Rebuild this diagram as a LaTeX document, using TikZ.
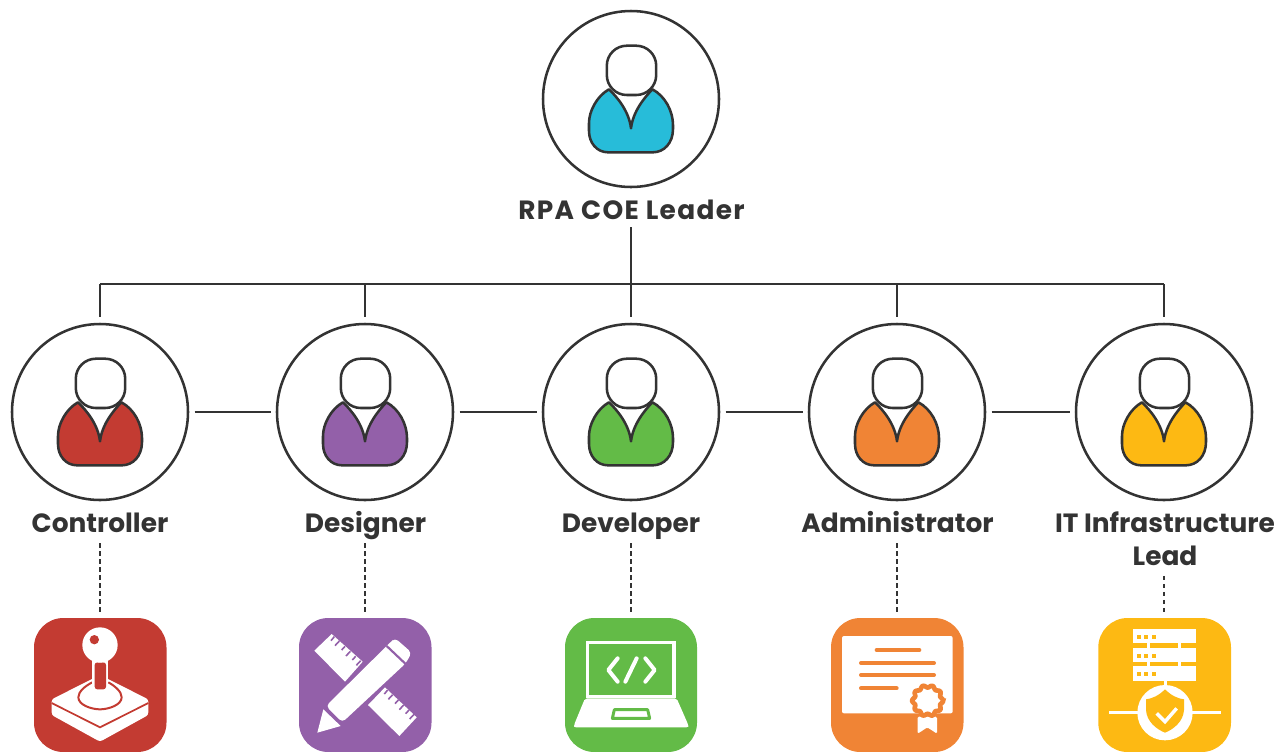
\documentclass[tikz,border=0pt]{standalone}
\usepackage{fontspec}
\setmainfont{Poppins}[BoldFont={Poppins Bold}]
\usetikzlibrary{calc}
\definecolor{ink}{HTML}{333333}
\definecolor{cred}{HTML}{C33B32}
\definecolor{cpurple}{HTML}{9360A9}
\definecolor{cgreen}{HTML}{63BB47}
\definecolor{corange}{HTML}{F08435}
\definecolor{cyellow}{HTML}{FDB913}
\definecolor{ccyan}{HTML}{27BCD9}
\tikzset{
  every picture/.append style={x=0.75pt,y=-0.75pt},
  ring/.style={circle,draw=ink,line width=1.9pt,minimum size=132pt,inner sep=0pt},
  role/.style={font=\bfseries\fontsize{19.8}{24.75}\selectfont,text=ink,align=center,inner sep=0pt},
  oneline/.style={role,anchor=base,text height=15pt,text depth=4.5pt},
  link/.style={draw=ink,line width=1.3pt},
  dots/.style={draw=ink,line width=1.4pt,dash pattern=on 3.3pt off 2.7pt},
  tile/.style={rounded corners=22pt},
  zoomed/.style={x=0.25pt,y=-0.25pt},
  person/.pic={
    \begin{scope}[line width=1.9pt,draw=ink,line join=round,x=0.75pt,y=-0.75pt]
    \path[draw=ink,fill=#1] (-22,-9.7) .. controls (-14,-2) and (-2,12) .. (0,29.3)
      .. controls (2,12) and (14,-2) .. (21.4,-9.7)
      .. controls (34,-3) and (42,12) .. (42,26) -- (42,30)
      .. controls (42,44) and (33,53.3) .. (22,53.3) -- (-23,53.3)
      .. controls (-34,53.3) and (-42,44) .. (-42,32) -- (-42,24)
      .. controls (-42,12) and (-34,-3) .. (-22,-9.7) -- cycle;
    \path[draw=ink,fill=white,rounded corners=15pt] (-24.2,-53.3) rectangle (25.2,-4);
    \end{scope}
  },
}
\begin{document}
\begin{tikzpicture}
\useasboundingbox (0,0) rectangle (1285,751);
% circles
\node[ring] (lead) at (631,99) {};
\node[ring] (c1) at (100,412) {};
\node[ring] (c2) at (365,412) {};
\node[ring] (c3) at (631,412) {};
\node[ring] (c4) at (897,412) {};
\node[ring] (c5) at (1164,412) {};
\pic at (lead.center) {person=ccyan};
\pic at (c1.center) {person=cred};
\pic at (c2.center) {person=cpurple};
\pic at (c3.center) {person=cgreen};
\pic at (c4.center) {person=corange};
\pic at (c5.center) {person=cyellow};
% labels
\node[oneline] (tlead) at (631.5,219) {\addfontfeature{LetterSpace=5}RPA COE Leader};
\node[oneline] (t1) at (100,532) {Controller};
\node[oneline] (t2) at (365.5,532) {Designer};
\node[oneline] (t3) at (631,532) {Developer};
\node[oneline] (t4) at (897.5,532) {Administrator};
\node[role,anchor=north] (t5) at (1165,511.5) {IT Infrastructure\\Lead};
% tiles
\fill[cred,tile] (34,618) rectangle (166.5,752);
\fill[cpurple,tile] (299,618) rectangle (431.5,752);
\fill[cgreen,tile] (565,618) rectangle (697,752);
\fill[corange,tile] (831,618) rectangle (963.5,752);
\fill[cyellow,tile] (1098.3,618) rectangle (1231,752);
\node[inner sep=0pt,minimum size=0pt] (i1) at (100,618) {};
\node[inner sep=0pt,minimum size=0pt] (i2) at (365,618) {};
\node[inner sep=0pt,minimum size=0pt] (i3) at (631,618) {};
\node[inner sep=0pt,minimum size=0pt] (i4) at (897,618) {};
\node[inner sep=0pt,minimum size=0pt] (i5) at (1164,618) {};
% connectors
\coordinate (b1) at (100,284);
\coordinate (b2) at (365,284);
\coordinate (b4) at (897,284);
\coordinate (b5) at (1164,284);
\draw[link] (b1) -- (b5);
\draw[link,shorten >=4.4pt] (b1) -- (c1.north);
\draw[link,shorten >=4.4pt] (b2) -- (c2.north);
\draw[link,shorten >=4.4pt] (b4) -- (c4.north);
\draw[link,shorten >=4.4pt] (b5) -- (c5.north);
\draw[link,shorten <=1.5pt,shorten >=4.4pt] (tlead.south -| c3.north) -- (c3.north);
\foreach \a/\b in {c1/c2,c2/c3,c3/c4,c4/c5}
  \draw[link,shorten <=4pt,shorten >=3.5pt] (\a) -- (\b);
\foreach \a/\b in {t1/i1,t2/i2,t3/i3,t4/i4}
  \draw[dots,shorten <=3.75pt,shorten >=4.5pt] (\a.south -| \b) -- (\b);
\draw[dots,shorten <=7.5pt,shorten >=4.5pt] (t5.south -| i5) -- (i5);
% joystick
\begin{scope}[shift={(20,610)},zoomed]
\fill[white,rounded corners=2pt] (95,268) -- (240,195) -- (385,268) -- (385,315) -- (240,395) -- (95,315) -- cycle;
\draw[cred,line width=1.3pt] (95,279) -- (240,352) -- (385,279);
\draw[cred,line width=1.5pt] (217,217) .. controls (195,228) and (175,245) .. (175,262) .. controls (175,285) and (215,298) .. (240,298) .. controls (265,298) and (305,285) .. (305,262) .. controls (305,245) and (285,228) .. (265,217);
\fill[white] (217,150) rectangle (265,225);
\fill[cred,rounded corners=2pt] (224,157) rectangle (258,238);
\fill[white] (240,105) circle[radius=53];
\fill[cred] (223,89) circle[radius=14];
\end{scope}
% pencil and rulers
\begin{scope}[shift={(290,610)},zoomed]
\fill[white] (125,72) -- (218,155) -- (165,215) -- (73,122) -- cycle;
\fill[white] (285,232) -- (380,322) -- (328,378) -- (234,285) -- cycle;
\foreach \s/\e in {{133,80}/{123,92},{148,93}/{135,107},{165,109}/{155,120},{181,124}/{168,138},{197,139}/{187,150},{212,152}/{199,166},
                   {293,240}/{283,252},{308,254}/{295,268},{325,270}/{315,281},{341,285}/{328,299},{357,300}/{347,311},{372,313}/{359,327}}
  \draw[cpurple,line width=1.2pt] (\s) -- (\e);
\fill[white,rounded corners=3pt] (108,288) -- (300,98) -- (315,84) -- (365,128) -- (347,160) -- (157,337) -- cycle;
\draw[cpurple,line width=1.6pt] (290,108) -- (347,162);
\draw[cpurple,line width=1.6pt] (102,293) -- (155,343);
\fill[white] (100,298) -- (152,348) -- (82,368) -- cycle;
\end{scope}
% laptop
\begin{scope}[shift={(555,610)},zoomed]
\draw[white,line width=2.6pt] (98,98) rectangle (357,259);
\fill[white,rounded corners=1.5pt] (90,265) -- (365,265) -- (400,345) -- (400,352) -- (57,352) -- (57,345) -- cycle;
\draw[cgreen,line width=2.2pt,line join=round] (178,299) -- (278,299) -- (284,325) -- (172,325) -- cycle;
\begin{scope}[white,line width=3pt,line cap=round,line join=round]
\draw (188,145) -- (160,180) -- (188,215);
\draw (245,145) -- (211,215);
\draw (271,145) -- (299,180) -- (271,215);
\end{scope}
\end{scope}
% certificate
\begin{scope}[shift={(822,610)},zoomed]
\fill[white,rounded corners=1.5pt] (60,78) rectangle (392,310);
\begin{scope}[corange,line width=3pt,line cap=round]
\draw (164,120) -- (292,120);
\draw (117,159) -- (336,159);
\draw (117,195) -- (336,195);
\draw (117,235) -- (224,235);
\end{scope}
\fill[white,rounded corners=1pt] (287,320) -- (345,320) -- (345,371) -- (316,352) -- (287,371) -- cycle;
\draw[corange,line width=3.5pt,fill=white,smooth,samples=120,domain=0:360] plot ({317+(43+3.5*cos(10*\x))*cos(\x)},{272+(43+3.5*cos(10*\x))*sin(\x)}) -- cycle;
\end{scope}
% server
\begin{scope}[shift={(1090,610)},zoomed]
\foreach \y/\h in {57/43,113/42,168/44}{
  \fill[white] (130,\y) rectangle (318,\y+\h);
  \foreach \xx in {140,162,185} \fill[cyellow] (\xx,\y+18) rectangle (\xx+12,\y+30);
}
\fill[white] (172,100) rectangle (181,113);
\fill[white] (264,100) rectangle (274,113);
\fill[white] (172,155) rectangle (181,168);
\fill[white] (264,155) rectangle (274,168);
\fill[white] (221,212) rectangle (231,240);
\draw[white,line width=2.6pt] (57,308) -- (392,308);
\fill[white] (225,308) circle[radius=83];
\fill[cyellow] (225,238) .. controls (205,258) and (185,266) .. (168,268) -- (168,300) .. controls (170,335) and (200,358) .. (225,368) .. controls (250,358) and (280,335) .. (282,300) -- (282,268) .. controls (265,266) and (245,258) .. (225,238) -- cycle;
\draw[white,line width=2.6pt] (200,310) -- (225,335) -- (260,295);
\end{scope}
\end{tikzpicture}
\end{document}
